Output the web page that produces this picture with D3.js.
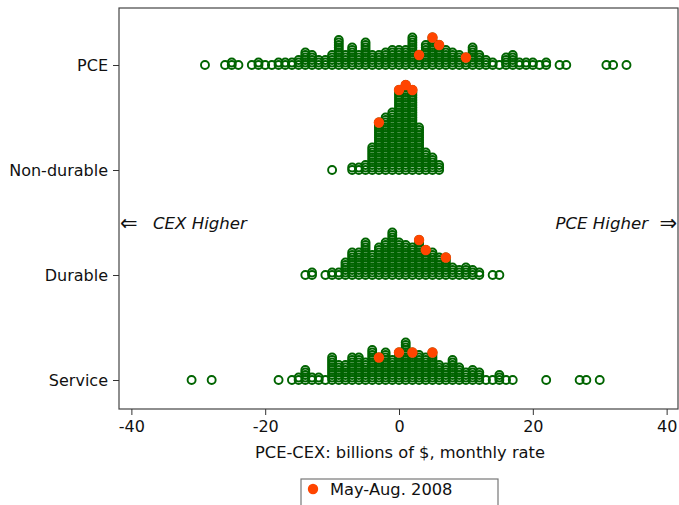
<!DOCTYPE html>
<html>
<head>
<meta charset="utf-8">
<script src="https://cdn.jsdelivr.net/npm/d3@7"></script>
<style>
  body { margin: 0; background: #fff; }
  svg { font-family: "DejaVu Sans", sans-serif; }
</style>
</head>
<body>
<svg id="chart" width="679" height="505"></svg>
<script>

// categories, top to bottom
let categories = ['PCE', 'Non-durable', 'Durable', 'Service'];

// [bin value, number of stacked months]
let pceDots = [[-29,1],[-26,1],[-25,2],[-24,1],[-22,1],[-21,2],[-20,1],[-19,1],
	[-18,2],[-17,2],[-16,2],[-15,3],[-14,6],[-13,5],[-12,3],[-11,3],[-10,5],[-9,11],
	[-8,5],[-7,8],[-6,5],[-5,10],[-4,5],[-3,5],[-2,6],[-1,7],[0,7],[1,7],[2,12],
	[3,5],[4,9],[5,12],[6,9],[7,7],[8,6],[9,5],[10,4],[11,8],[12,5],[13,3],[14,2],
	[15,1],[16,4],[17,5],[18,2],[19,2],[20,2],[21,1],[22,2],[24,1],[25,1],[31,1],
	[32,1],[34,1]];
let nondurDots = [[-10,1],[-7,2],[-6,2],[-5,3],[-4,10],[-3,20],[-2,22],[-1,24],
	[0,33],[1,35],[2,33],[3,18],[4,8],[5,6],[6,3]];
let durDots = [[-14,1],[-13,2],[-11,1],[-10,2],[-9,2],[-8,6],[-7,10],[-6,10],
	[-5,14],[-4,9],[-3,12],[-2,14],[-1,18],[0,14],[1,13],[2,12],[3,15],[4,11],
	[5,10],[6,8],[7,8],[8,4],[9,3],[10,4],[11,3],[12,2],[14,1],[15,1]];
let servDots = [[-31,1],[-28,1],[-18,1],[-16,1],[-15,2],[-14,5],[-13,2],[-12,2],
	[-11,1],[-10,10],[-9,7],[-8,7],[-7,10],[-6,10],[-5,8],[-4,13],[-3,10],[-2,12],
	[-1,9],[0,12],[1,16],[2,12],[3,11],[4,10],[5,12],[6,7],[7,6],[8,9],[9,6],
	[10,4],[11,5],[12,4],[13,1],[14,1],[15,3],[16,1],[17,1],[22,1],[27,1],[28,1],
	[30,1]];

// May-Aug. 2008 months (bin value), drawn at the top of their stack
let pceMayAug = [3, 5, 6, 10];
let nondurMayAug = [-3, 0, 1, 2];
let durMayAug = [3, 4, 7];
let servMayAug = [-3, 0, 2, 5];

let xTicks = [-40, -20, 0, 20, 40];
let xTitle = 'PCE-CEX: billions of $, monthly rate';
let legendLabel = 'May-Aug. 2008';

let allDots = [pceDots, nondurDots, durDots, servDots];
let allMayAug = [pceMayAug, nondurMayAug, durMayAug, servMayAug];

let green = '#006400';
let orange = '#ff4500';
let stackStep = 2.5;

let svg = d3.select('#chart');
let plotL = 119, plotR = 678, plotT = 8, plotB = 409;

let xScale = d3.scaleLinear()
	.domain([-41.85, 41.7])
	.range([plotL, plotR]);
let yScale = d3.scalePoint()
	.domain(categories)
	.range([65, 380]);
let levelScale = d3.scaleLinear()
	.domain([0, 1])
	.range([0, -stackStep]);

// frame
svg.append('rect')
	.attr('x', plotL)
	.attr('y', plotT)
	.attr('width', plotR - plotL)
	.attr('height', plotB - plotT)
	.attr('fill', 'none')
	.attr('stroke', '#444')
	.attr('stroke-width', 1.2);

// axes
let xAxis = svg.append('g')
	.attr('transform', `translate(0,${plotB})`)
	.call(d3.axisBottom(xScale).tickValues(xTicks).tickSize(6).tickSizeOuter(0).tickPadding(6));
let yAxis = svg.append('g')
	.attr('transform', `translate(${plotL},0)`)
	.call(d3.axisLeft(yScale).tickSize(6).tickSizeOuter(0).tickPadding(5));
[xAxis, yAxis].forEach(a => {
	a.select('.domain').remove();
	a.selectAll('line').attr('stroke', '#333');
	a.selectAll('text')
		.attr('fill', '#111')
		.style('font-family', '"DejaVu Sans", sans-serif')
		.style('font-size', '16px');
});
xAxis.selectAll('text').text(d => d < 0 ? '-' + Math.abs(d) : d);

svg.append('text')
	.attr('x', 400)
	.attr('y', 458)
	.attr('text-anchor', 'middle')
	.attr('font-size', 16.3)
	.attr('fill', '#111')
	.text(xTitle);

// direction notes
let notes = svg.append('g').attr('fill', '#111');
notes.append('text')
	.attr('x', 120)
	.attr('y', 230)
	.attr('font-size', 21)
	.text('⇐');
notes.append('text')
	.attr('x', 153)
	.attr('y', 229)
	.attr('font-size', 16.6)
	.attr('font-style', 'italic')
	.text('CEX Higher');
notes.append('text')
	.attr('x', 648)
	.attr('y', 229)
	.attr('font-size', 16.6)
	.attr('font-style', 'italic')
	.attr('text-anchor', 'end')
	.text('PCE Higher');
notes.append('text')
	.attr('x', 677)
	.attr('y', 230)
	.attr('font-size', 21)
	.attr('text-anchor', 'end')
	.text('⇒');

// stacked dots
let dotData = [];
allDots.forEach((bins, ci) => {
	bins.forEach(([v, n]) => {
		for (let k = 0; k < n; ++k)
			dotData.push({ cat: categories[ci], v: v, level: k });
	});
});
svg.append('g')
	.selectAll('circle')
	.data(dotData)
	.join('circle')
	.attr('cx', d => xScale(d.v))
	.attr('cy', d => yScale(d.cat) + levelScale(d.level))
	.attr('r', 4)
	.attr('fill', 'none')
	.attr('stroke', green)
	.attr('stroke-width', 1.9);

let redData = [];
allMayAug.forEach((vals, ci) => {
	vals.forEach(v => {
		let bin = allDots[ci].find(b => b[0] == v);
		redData.push({ cat: categories[ci], v: v, level: bin[1] - 1 });
	});
});
svg.append('g')
	.selectAll('circle')
	.data(redData)
	.join('circle')
	.attr('cx', d => xScale(d.v))
	.attr('cy', d => yScale(d.cat) + levelScale(d.level))
	.attr('r', 5.2)
	.attr('fill', orange);

// legend
let lg = svg.append('g');
lg.append('rect')
	.attr('x', 301)
	.attr('y', 479)
	.attr('width', 197)
	.attr('height', 40)
	.attr('fill', '#fff')
	.attr('stroke', '#777')
	.attr('stroke-width', 1.2);
lg.append('circle')
	.attr('cx', 313)
	.attr('cy', 489)
	.attr('r', 5.2)
	.attr('fill', orange);
lg.append('text')
	.attr('x', 330)
	.attr('y', 495)
	.attr('font-size', 16.3)
	.attr('fill', '#111')
	.text(legendLabel);

</script>
</body>
</html>
